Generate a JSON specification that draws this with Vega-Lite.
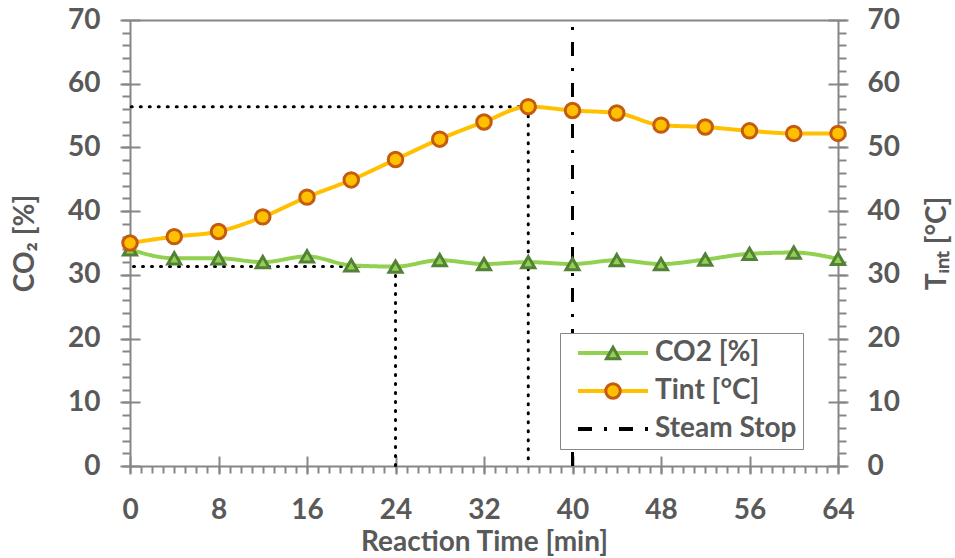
{
  "$schema": "https://vega.github.io/schema/vega-lite/v6.json",
  "width": 708,
  "height": 446,
  "autosize": "none",
  "padding": {"left": 130, "top": 20, "right": 117, "bottom": 92},
  "background": "white",
  "config": {
    "view": {"stroke": null},
    "axis": {
      "labelFont": "Lato", "labelFontSize": 28, "labelFontWeight": "bold", "labelColor": "#595959",
      "titleFont": "Lato", "titleFontSize": 28, "titleFontWeight": "bold", "titleColor": "#595959",
      "domainColor": "#868686", "domainWidth": 2, "tickColor": "#868686", "tickWidth": 2,
      "grid": false, "labelFlush": false, "labelOverlap": false, "labelBound": false
    },
    "legend": {
      "padding": 6, "rowPadding": 10, "symbolOffset": 33, "labelOffset": 28,
      "labelFont": "Lato", "labelFontSize": 28, "labelFontWeight": "bold", "labelColor": "#595959", "labelLimit": 0
    }
  },
  "datasets": {
    "series": [
      {"t": 0, "v": 34.0, "series": "CO2 [%]"},
      {"t": 4, "v": 32.6, "series": "CO2 [%]"},
      {"t": 8, "v": 32.6, "series": "CO2 [%]"},
      {"t": 12, "v": 32.0, "series": "CO2 [%]"},
      {"t": 16, "v": 32.9, "series": "CO2 [%]"},
      {"t": 20, "v": 31.5, "series": "CO2 [%]"},
      {"t": 24, "v": 31.3, "series": "CO2 [%]"},
      {"t": 28, "v": 32.3, "series": "CO2 [%]"},
      {"t": 32, "v": 31.7, "series": "CO2 [%]"},
      {"t": 36, "v": 32.0, "series": "CO2 [%]"},
      {"t": 40, "v": 31.7, "series": "CO2 [%]"},
      {"t": 44, "v": 32.3, "series": "CO2 [%]"},
      {"t": 48, "v": 31.7, "series": "CO2 [%]"},
      {"t": 52, "v": 32.4, "series": "CO2 [%]"},
      {"t": 56, "v": 33.3, "series": "CO2 [%]"},
      {"t": 60, "v": 33.5, "series": "CO2 [%]"},
      {"t": 64, "v": 32.5, "series": "CO2 [%]"},
      {"t": 0, "v": 35.0, "series": "Tint [°C]"},
      {"t": 4, "v": 36.0, "series": "Tint [°C]"},
      {"t": 8, "v": 36.8, "series": "Tint [°C]"},
      {"t": 12, "v": 39.1, "series": "Tint [°C]"},
      {"t": 16, "v": 42.2, "series": "Tint [°C]"},
      {"t": 20, "v": 44.9, "series": "Tint [°C]"},
      {"t": 24, "v": 48.1, "series": "Tint [°C]"},
      {"t": 28, "v": 51.3, "series": "Tint [°C]"},
      {"t": 32, "v": 54.0, "series": "Tint [°C]"},
      {"t": 36, "v": 56.4, "series": "Tint [°C]"},
      {"t": 40, "v": 55.8, "series": "Tint [°C]"},
      {"t": 44, "v": 55.4, "series": "Tint [°C]"},
      {"t": 48, "v": 53.5, "series": "Tint [°C]"},
      {"t": 52, "v": 53.2, "series": "Tint [°C]"},
      {"t": 56, "v": 52.6, "series": "Tint [°C]"},
      {"t": 60, "v": 52.2, "series": "Tint [°C]"},
      {"t": 64, "v": 52.2, "series": "Tint [°C]"}
    ],
    "guides": [
      {"t": 24, "v": 31.3},
      {"t": 36, "v": 56.4}
    ],
    "events": [
      {"t": 40, "series": "Steam Stop"}
    ]
  },
  "layer": [
    {
      "data": {"name": "guides"},
      "mark": {"type": "rule", "color": "black", "strokeWidth": 3, "strokeDash": [1, 8], "strokeCap": "round"},
      "encoding": {
        "x": {"field": "t", "type": "quantitative", "scale": {"domain": [0, 64], "nice": false}, "axis": null},
        "x2": {"datum": 0},
        "y": {"field": "v", "type": "quantitative", "scale": {"domain": [0, 70], "nice": false},
          "axis": {"orient": "right", "values": [0,2,4,6,8,10,12,14,16,18,20,22,24,26,28,30,32,34,36,38,40,42,44,46,48,50,52,54,56,58,60,62,64,66,68,70], "tickSize": 8, "labels": false, "title": null, "domain": true}}
      }
    },
    {
      "data": {"name": "guides"},
      "mark": {"type": "rule", "color": "black", "strokeWidth": 3, "strokeDash": [1, 8], "strokeCap": "round"},
      "encoding": {
        "x": {"field": "t", "type": "quantitative", "scale": {"domain": [0, 64], "nice": false},
          "axis": {"orient": "top", "domain": true, "ticks": false, "labels": false, "title": null}},
        "y": {"field": "v", "type": "quantitative", "scale": {"domain": [0, 70], "nice": false},
          "axis": {"orient": "right", "values": [0,10,20,30,40,50,60,70], "offset": -10, "tickSize": 20, "domain": false, "labelPadding": 19, "labelAlign": "left",
            "title": "Tᵢₙₜ [°C]", "titleAngle": -90, "titleBaseline": "top", "titlePadding": 24}},
        "y2": {"datum": 0}
      }
    },
    {
      "data": {"name": "events"},
      "mark": {"type": "rule", "strokeWidth": 3},
      "encoding": {
        "x": {"field": "t", "type": "quantitative", "scale": {"domain": [0, 64], "nice": false},
          "axis": {"orient": "bottom", "values": [0,1,2,3,4,5,6,7,8,9,10,11,12,13,14,15,16,17,18,19,20,21,22,23,24,25,26,27,28,29,30,31,32,33,34,35,36,37,38,39,40,41,42,43,44,45,46,47,48,49,50,51,52,53,54,55,56,57,58,59,60,61,62,63,64], "tickSize": 7, "labels": false, "title": null, "domain": true}},
        "y": {"datum": 0, "type": "quantitative", "scale": {"domain": [0, 70], "nice": false}, "axis": null},
        "y2": {"datum": 70},
        "stroke": {"field": "series", "type": "nominal",
          "scale": {"domain": ["CO2 [%]", "Tint [°C]", "Steam Stop"], "range": ["#92D050", "#FFC000", "#000000"]},
          "legend": {"title": null, "orient": "none", "legendX": 430, "legendY": 313, "symbolType": "M-10,0H10", "symbolSize": 49, "symbolStrokeWidth": 4, "strokeColor": "#868686", "fillColor": "white"}},
        "strokeDash": {"field": "series", "type": "nominal",
          "scale": {"domain": ["CO2 [%]", "Tint [°C]", "Steam Stop"], "range": [[1, 0], [1, 0], [14, 12, 3, 12]]},
          "legend": {"title": null, "orient": "none", "legendX": 430, "legendY": 313, "symbolType": "M-10,0H10", "symbolSize": 49, "symbolStrokeWidth": 4, "strokeColor": "#868686", "fillColor": "white"}}
      }
    },
    {
      "data": {"name": "series"},
      "mark": {"type": "line", "strokeWidth": 4, "interpolate": "monotone"},
      "encoding": {
        "x": {"field": "t", "type": "quantitative", "scale": {"domain": [0, 64], "nice": false},
          "axis": {"orient": "bottom", "values": [0,8,16,24,32,40,48,56,64], "offset": -10, "tickSize": 18, "domain": false, "labelPadding": 22, "title": "Reaction Time [min]", "titlePadding": 4}},
        "y": {"field": "v", "type": "quantitative", "scale": {"domain": [0, 70], "nice": false},
          "axis": {"orient": "left", "values": [0,10,20,30,40,50,60,70], "offset": -10, "tickSize": 20, "domain": false, "labelPadding": 20, "title": "CO₂  [%]", "titlePadding": 28}},
        "stroke": {"field": "series", "type": "nominal",
          "scale": {"domain": ["CO2 [%]", "Tint [°C]", "Steam Stop"], "range": ["#92D050", "#FFC000", "#000000"]},
          "legend": {"title": null, "orient": "none", "legendX": 430, "legendY": 313, "symbolType": "M-10,0H10", "symbolSize": 49, "symbolStrokeWidth": 4, "strokeColor": "#868686", "fillColor": "white"}},
        "strokeDash": {"field": "series", "type": "nominal",
          "scale": {"domain": ["CO2 [%]", "Tint [°C]", "Steam Stop"], "range": [[1, 0], [1, 0], [14, 12, 3, 12]]},
          "legend": {"title": null, "orient": "none", "legendX": 430, "legendY": 313, "symbolType": "M-10,0H10", "symbolSize": 49, "symbolStrokeWidth": 4, "strokeColor": "#868686", "fillColor": "white"}}
      }
    },
    {
      "data": {"name": "series"},
      "transform": [{"filter": "datum.series === 'CO2 [%]'"}],
      "mark": {"type": "point", "filled": true, "size": 170, "stroke": "#538135", "strokeWidth": 3, "opacity": 1},
      "encoding": {
        "x": {"field": "t", "type": "quantitative", "scale": {"domain": [0, 64], "nice": false}, "axis": null},
        "y": {"field": "v", "type": "quantitative", "scale": {"domain": [0, 70], "nice": false},
          "axis": {"orient": "left", "values": [0,2,4,6,8,10,12,14,16,18,20,22,24,26,28,30,32,34,36,38,40,42,44,46,48,50,52,54,56,58,60,62,64,66,68,70], "tickSize": 8, "labels": false, "title": null, "domain": true}},
        "shape": {"field": "series", "type": "nominal",
          "scale": {"domain": ["CO2 [%]"], "range": ["triangle-up"]},
          "legend": {"title": null, "orient": "none", "legendX": 430, "legendY": 313, "symbolSize": 170, "symbolStrokeWidth": 3, "labelOpacity": 0}},
        "fill": {"field": "series", "type": "nominal",
          "scale": {"domain": ["CO2 [%]"], "range": ["#92D050"]},
          "legend": {"title": null, "orient": "none", "legendX": 430, "legendY": 313, "symbolSize": 170, "symbolStrokeWidth": 3, "labelOpacity": 0}}
      }
    },
    {
      "data": {"name": "series"},
      "transform": [{"filter": "datum.series === 'Tint [°C]'"}],
      "mark": {"type": "point", "filled": true, "size": 210, "stroke": "#C55A11", "strokeWidth": 3, "opacity": 1},
      "encoding": {
        "x": {"field": "t", "type": "quantitative", "scale": {"domain": [0, 64], "nice": false}, "axis": null},
        "y": {"field": "v", "type": "quantitative", "scale": {"domain": [0, 70], "nice": false}, "axis": null},
        "shape": {"field": "series", "type": "nominal",
          "scale": {"domain": ["Tint [°C]"], "range": ["circle"]},
          "legend": {"title": null, "orient": "none", "legendX": 430, "legendY": 351, "symbolSize": 210, "symbolStrokeWidth": 3, "labelOpacity": 0}},
        "fill": {"field": "series", "type": "nominal",
          "scale": {"domain": ["Tint [°C]"], "range": ["#FFC000"]},
          "legend": {"title": null, "orient": "none", "legendX": 430, "legendY": 351, "symbolSize": 210, "symbolStrokeWidth": 3, "labelOpacity": 0}}
      }
    }
  ],
  "resolve": {
    "axis": {"x": "independent", "y": "independent"},
    "scale": {"fill": "independent", "shape": "independent"}
  }
}
